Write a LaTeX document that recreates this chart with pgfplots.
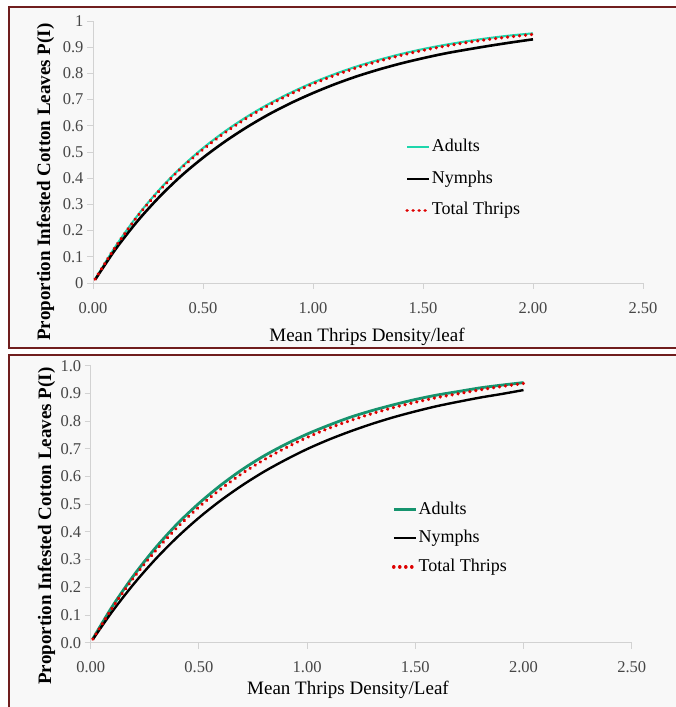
\documentclass[border=0pt]{standalone}
\usepackage{pgfplots}
\usepackage{pgfplotstable}
\usepackage{fontspec}
\setmainfont{Liberation Serif}
\pgfplotsset{compat=1.18}

\definecolor{frame}{RGB}{112,30,30}
\definecolor{panel}{RGB}{248,248,248}
\definecolor{axisgray}{RGB}{210,210,210}
\definecolor{ticktext}{RGB}{70,70,70}
\definecolor{aqua}{RGB}{30,214,172}
\definecolor{teal}{RGB}{22,148,110}
\definecolor{dotred}{RGB}{222,0,0}

% Proportion of infested leaves against mean density (first sampling set)
\pgfplotstableread{
m     adults nymphs total
0.01  0.015  0.013  0.015
0.10  0.137  0.126  0.135
0.20  0.255  0.234  0.252
0.30  0.355  0.327  0.351
0.40  0.441  0.408  0.437
0.50  0.515  0.478  0.510
0.60  0.579  0.540  0.574
0.70  0.635  0.595  0.630
0.80  0.684  0.644  0.679
0.90  0.727  0.687  0.722
1.00  0.765  0.725  0.760
1.10  0.798  0.759  0.793
1.20  0.827  0.789  0.822
1.30  0.852  0.815  0.847
1.40  0.874  0.838  0.869
1.50  0.893  0.858  0.888
1.60  0.909  0.876  0.904
1.70  0.923  0.891  0.918
1.80  0.935  0.905  0.930
1.90  0.945  0.918  0.940
2.00  0.953  0.930  0.949
}\setA

% Second sampling set
\pgfplotstableread{
m     adults nymphs total
0.01  0.014  0.012  0.013
0.10  0.131  0.113  0.126
0.20  0.244  0.213  0.236
0.30  0.343  0.302  0.332
0.40  0.429  0.381  0.416
0.50  0.503  0.451  0.490
0.60  0.568  0.513  0.554
0.70  0.625  0.568  0.611
0.80  0.674  0.617  0.660
0.90  0.716  0.660  0.703
1.00  0.753  0.699  0.741
1.10  0.785  0.733  0.774
1.20  0.814  0.763  0.802
1.30  0.838  0.790  0.827
1.40  0.859  0.814  0.849
1.50  0.878  0.835  0.868
1.60  0.894  0.854  0.885
1.70  0.907  0.870  0.899
1.80  0.920  0.885  0.913
1.90  0.930  0.898  0.925
2.00  0.939  0.912  0.936
}\setB

\pgfplotsset{
  thripsaxis/.style={
    scale only axis,
    xmin=0, xmax=2.5, ymin=0, ymax=1,
    axis x line*=bottom, axis y line*=left,
    axis line style={draw=axisgray, line width=0.9bp},
    every tick/.style={draw=axisgray, line width=0.9bp},
    major tick length=6bp,
    tick align=outside,
    xtick={0,0.5,...,2.5},
    ytick={0,0.1,...,1.0},
    /pgf/number format/assume math mode=true,
    tick label style={font=\fontsize{16.5bp}{18bp}\selectfont, text=ticktext},
    xticklabel style={/pgf/number format/fixed, /pgf/number format/fixed zerofill, /pgf/number format/precision=2},
    clip=false,
    legend cell align=left,
    legend image code/.code={\draw[##1] (0bp,0bp) -- (22bp,0bp);},
  },
  dots/.style={color=dotred, line width=3.6bp, line cap=round, dash pattern=on 0.01bp off 6bp},
}

\begin{document}
\begin{tikzpicture}
\useasboundingbox (0bp,0bp) rectangle (676bp,707bp);
\fill[white] (0bp,0bp) rectangle (676bp,707bp);
% panel backgrounds
\fill[panel] (9bp,359bp) rectangle (676bp,700bp);
\fill[panel] (9bp,0bp) rectangle (676bp,352bp);
% panel frames
\draw[frame, line width=2bp] (676bp,700bp) -- (9bp,700bp) -- (9bp,359bp) -- (676bp,359bp);
\draw[frame, line width=2bp] (676bp,352bp) -- (9bp,352bp) -- (9bp,0bp);

% upper chart
\begin{axis}[thripsaxis,
  at={(93bp,424bp)}, anchor=origin,
  width=550bp, height=262bp,
  xticklabel style={yshift=-10bp},
  yticklabel style={/pgf/number format/fixed},
  legend style={at={(0.562,0.562)}, anchor=north west, draw=none, fill=none,
    font=\fontsize{18bp}{20bp}\selectfont,
    nodes={inner sep=1bp, text height=13bp, text depth=4bp},
    row sep=12.5bp},
]
\addplot[color=aqua, line width=2bp, smooth] table[x=m, y=adults] {\setA};
\addlegendentry{Adults}
\addplot[color=black, line width=2.6bp, smooth] table[x=m, y=nymphs] {\setA};
\addlegendentry{Nymphs}
\addplot[dots, smooth] table[x=m, y=total] {\setA};
\addlegendentry{Total Thrips}
\end{axis}

% lower chart
\begin{axis}[thripsaxis,
  at={(90.7bp,64.3bp)}, anchor=origin,
  width=541bp, height=277bp,
  xticklabel style={yshift=-9bp},
  yticklabel style={/pgf/number format/fixed, /pgf/number format/fixed zerofill, /pgf/number format/precision=1},
  legend style={at={(0.551,0.522)}, anchor=north west, draw=none, fill=none,
    font=\fontsize{18bp}{20bp}\selectfont,
    nodes={inner sep=1bp, text height=13bp, text depth=4bp},
    row sep=9.5bp},
]
\addplot[color=teal, line width=2.8bp, smooth] table[x=m, y=adults] {\setB};
\addlegendentry{Adults}
\addplot[color=black, line width=2.4bp, smooth] table[x=m, y=nymphs] {\setB};
\addlegendentry{Nymphs}
\addplot[dots, smooth] table[x=m, y=total] {\setB};
\addlegendentry{Total Thrips}
\end{axis}

% axis titles
\node[anchor=base, font=\fontsize{19bp}{21bp}\selectfont] at (367bp,365bp) {Mean Thrips Density/leaf};
\node[anchor=base, font=\fontsize{19bp}{21bp}\selectfont] at (348bp,13bp) {Mean Thrips Density/Leaf};
\node[anchor=base, rotate=90, font=\fontsize{19bp}{21bp}\selectfont\bfseries] at (50bp,525bp) {Proportion Infested Cotton Leaves P(I)};
\node[anchor=base, rotate=90, font=\fontsize{19bp}{21bp}\selectfont\bfseries] at (51bp,181bp) {Proportion Infested Cotton Leaves P(I)};
\end{tikzpicture}
\end{document}
